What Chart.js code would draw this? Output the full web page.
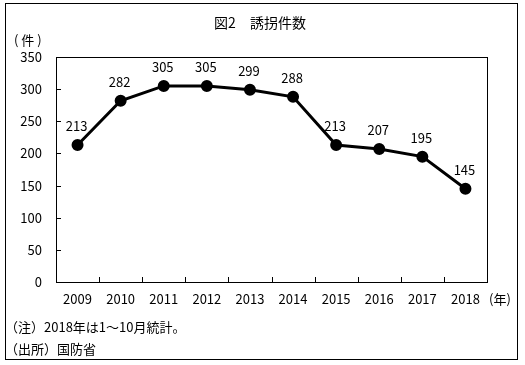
<!DOCTYPE html>
<html>
<head>
<meta charset="utf-8">
<script src="https://cdn.jsdelivr.net/npm/chart.js@4.4.7/dist/chart.umd.min.js"></script>
<style>
  html, body { margin: 0; padding: 0; background: #fff; }
  #wrap { width: 525px; height: 365px; }
</style>
</head>
<body>
<div id="wrap"><canvas id="kidnapChart" width="525" height="365"></canvas></div>
<script>
// ===== データ =====
const years = ['2009', '2010', '2011', '2012', '2013', '2014', '2015', '2016', '2017', '2018'];
const cases = [213, 282, 305, 305, 299, 288, 213, 207, 195, 145];
const yTicks = [0, 50, 100, 150, 200, 250, 300, 350];

const FONT = '"Noto Sans CJK JP", "DejaVu Sans", sans-serif';

// ===== 枠・目盛り・ラベル描画 =====
const decorPlugin = {
  id: 'decor',
  afterDraw(chart) {
    const ctx = chart.ctx;
    const area = chart.chartArea;
    const xs = chart.scales.x;
    const ys = chart.scales.y;
    ctx.save();
    ctx.strokeStyle = '#000';
    ctx.lineWidth = 1;

    // 外枠
    ctx.strokeRect(5.5, 3.5, 512, 356);
    // プロット枠
    ctx.strokeRect(Math.round(area.left) + 0.5, Math.round(area.top) + 0.5,
      Math.round(area.right - area.left), Math.round(area.bottom - area.top));

    // y軸目盛り（内向き）
    ctx.beginPath();
    yTicks.forEach(v => {
      const y = Math.round(ys.getPixelForValue(v)) + 0.5;
      ctx.moveTo(area.left, y);
      ctx.lineTo(area.left + 5, y);
    });
    // x軸目盛り（区切り、内向き）
    for (let i = 1; i < years.length; i++) {
      const x = Math.round((xs.getPixelForValue(i - 1) + xs.getPixelForValue(i)) / 2) + 0.5;
      ctx.moveTo(x, area.bottom);
      ctx.lineTo(x, area.bottom - 5);
    }
    ctx.stroke();

    ctx.fillStyle = '#000';
    // タイトル
    ctx.font = '14px ' + FONT;
    ctx.textAlign = 'center';
    ctx.textBaseline = 'middle';
    ctx.fillText('図2　誘拐件数', 260, 23);

    // データラベル
    ctx.font = '13px ' + FONT;
    const meta = chart.getDatasetMeta(0);
    meta.data.forEach((pt, i) => {
      ctx.fillText(String(cases[i]), pt.x - 1, pt.y - 19);
    });

    // 単位
    ctx.textAlign = 'left';
    ctx.fillText('( 件 )', 14, 40);
    ctx.fillText('(年)', 489, 299);

    // 注記
    ctx.fillText('（注）2018年は1～10月統計。', 5, 327);
    ctx.fillText('（出所）国防省', 5, 349);
    ctx.restore();
  }
};

// ===== チャート =====
function createChart() {
  const ctx = document.getElementById('kidnapChart').getContext('2d');
  new Chart(ctx, {
    type: 'line',
    data: {
      labels: years,
      datasets: [{
        data: cases,
        borderColor: '#000',
        backgroundColor: '#000',
        borderWidth: 3,
        pointRadius: 4.5,
        pointBackgroundColor: '#000',
        pointBorderColor: '#000',
        tension: 0
      }]
    },
    options: {
      responsive: false,
      animation: false,
      layout: { padding: { left: 0, right: 38, top: 57, bottom: 53 } },
      plugins: {
        legend: { display: false },
        title: { display: false },
        tooltip: { enabled: false }
      },
      scales: {
        x: {
          offset: true,
          grid: { display: false, drawTicks: false },
          border: { display: false },
          ticks: { color: '#000', font: { family: FONT, size: 13 }, padding: 9, maxRotation: 0 },
          afterFit(s) { s.height = 30; }
        },
        y: {
          min: 0,
          max: 350,
          grid: { display: false, drawTicks: false },
          border: { display: false },
          ticks: {
            stepSize: 50,
            color: '#000',
            font: { family: FONT, size: 13 },
            padding: 14
          },
          afterFit(s) { s.width = 56; }
        }
      }
    },
    plugins: [decorPlugin]
  });
}

createChart();
</script>
</body>
</html>
